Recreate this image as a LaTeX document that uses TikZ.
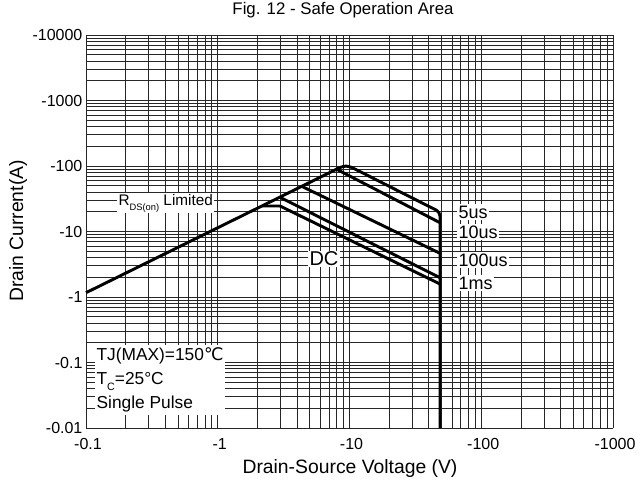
\documentclass[tikz,border=0pt]{standalone}
\usepackage{fontspec}
\setmainfont{Liberation Sans}
\newfontfamily\symfont{DejaVu Sans}

\begin{document}
\begin{tikzpicture}[x=0.75pt,y=-0.75pt,
    gridline/.style={black!85,line width=0.6pt},
    soa/.style={line width=2.2pt,line join=round},
    ticklabel/.style={font=\fontsize{12}{14}\selectfont,inner sep=1pt},
    axtitle/.style={font=\fontsize{14.5}{16}\selectfont,inner sep=1pt},
    tag/.style={fill=white,inner sep=1pt,font=\fontsize{13.5}{15}\selectfont}]
    \useasboundingbox (0,0) rectangle (640,483);
    % grid
    \foreach \d in {-1,0,1,2}
        \foreach \m in {1,...,9} {
            \pgfmathsetmacro\gx{86+131.75*(\d+log10(\m)+1)}
            \draw[gridline] (\gx,35) -- (\gx,428);
        }
    \draw[gridline] (613,35) -- (613,428);
    \foreach \d in {-2,...,3}
        \foreach \m in {1,...,9} {
            \pgfmathsetmacro\gy{35+65.5*(4-\d-log10(\m))}
            \draw[gridline] (86,\gy) -- (613,\gy);
        }
    \draw[gridline] (86,35) -- (613,35);
    % axis labels
    \foreach \e/\t in {4/-10000,3/-1000,2/-100,1/-10,0/-1,-1/-0.1,-2/-0.01}
        \node[ticklabel,anchor=east] (ylab\e) at (84,{35+65.5*(4-\e)}) {\t};
    \foreach \e/\t in {-1/-0.1,0/-1,1/-10,2/-100,3/-1000}
        \node[ticklabel] (xlab\e) at ({88+131.75*(\e+1)},444) {\t};
    \node[axtitle,font=\fontsize{12.6}{14}\selectfont] (title) at (343,10) {Fig. 12 - Safe Operation Area};
    \node[axtitle] (xtitle) at (350,468) {Drain-Source Voltage (V)};
    \node[axtitle,rotate=90] (ytitle) at (18,231) {Drain Current(A)};
    % limits
    \draw[soa,rounded corners=3pt] (86,292.7) -- (343,166) -- (349,166) -- (440,212) -- (440,428);
    \draw[soa] (336.7,169.3) -- (440,222.7);
    \draw[soa] (301.7,186.3) -- (440,253.3);
    \draw[soa] (280,197.3) -- (440,277.7);
    \draw[soa] (262,206) -- (280,206) -- (440,284);
    % tags
    \node[tag,anchor=west] (t5) at (457,212) {5us};
    \node[tag,anchor=west] (t10) at (457,232) {10us};
    \node[tag,anchor=west] (t100) at (457,260) {100us};
    \node[tag,anchor=west] (t1m) at (457,283) {1ms};
    \node[tag,font=\fontsize{15}{17}\selectfont] (dc) at (324,259) {DC};
    \node[tag,anchor=west,font=\fontsize{11.5}{13}\selectfont] (rds) at (117,203) {R\raisebox{-0.6ex}{\fontsize{7}{8}\selectfont DS(on)} Limited};
    \node[tag,anchor=north west,align=left,font=\fontsize{13}{18}\selectfont,minimum width=92pt,minimum height=52pt] (note) at (95,345)
        {TJ(MAX)=150{\symfont ℃}\\T\raisebox{-0.6ex}{\fontsize{8}{9}\selectfont C}=25°C\\Single Pulse};
\end{tikzpicture}
\end{document}
